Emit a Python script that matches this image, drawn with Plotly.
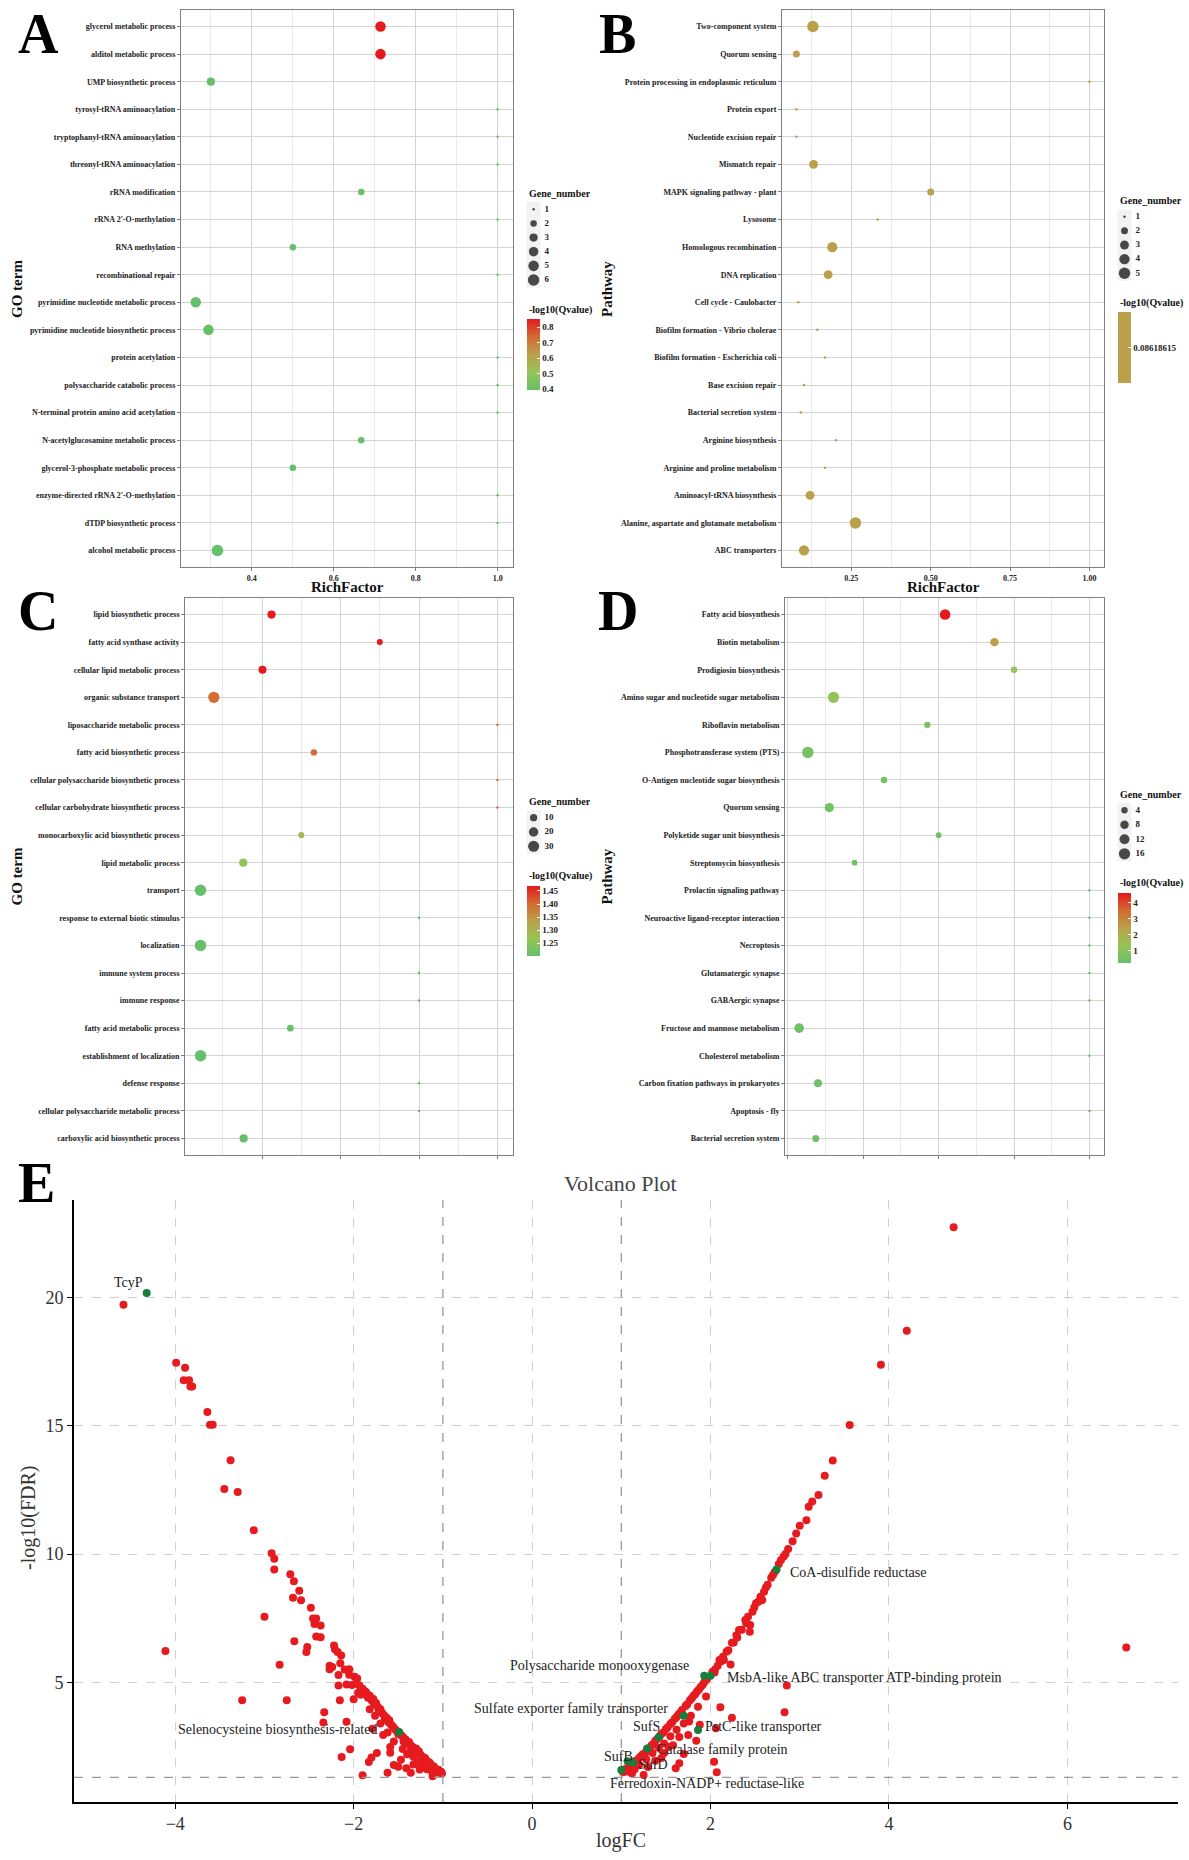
import math
import plotly.graph_objects as go

W, H = 1189, 1860


def px(x):
    return x / W


def py(y):
    return 1 - y / H


SERIF = "Liberation Serif"

# ---------------- Panel A : GO terms ----------------
A_terms = ["glycerol metabolic process", "alditol metabolic process", "UMP biosynthetic process",
           "tyrosyl-tRNA aminoacylation", "tryptophanyl-tRNA aminoacylation", "threonyl-tRNA aminoacylation",
           "rRNA modification", "rRNA 2'-O-methylation", "RNA methylation", "recombinational repair",
           "pyrimidine nucleotide metabolic process", "pyrimidine nucleotide biosynthetic process",
           "protein acetylation", "polysaccharide catabolic process", "N-terminal protein amino acid acetylation",
           "N-acetylglucosamine metabolic process", "glycerol-3-phosphate metabolic process",
           "enzyme-directed rRNA 2'-O-methylation", "dTDP biosynthetic process", "alcohol metabolic process"]
A_rich = [0.714, 0.714, 0.300, 1.0, 1.0, 1.0, 0.667, 1.0, 0.5, 1.0,
          0.263, 0.294, 1.0, 1.0, 1.0, 0.667, 0.5, 1.0, 1.0, 0.316]
A_genes = [5, 5, 3, 1, 1, 1, 2, 1, 2, 1, 5, 5, 1, 1, 1, 2, 2, 1, 1, 6]
A_q = [0.852, 0.852, 0.394, 0.394, 0.394, 0.394, 0.394, 0.394, 0.394, 0.394,
       0.394, 0.394, 0.394, 0.394, 0.394, 0.394, 0.394, 0.394, 0.394, 0.394]
A_size_breaks = [1, 2, 3, 4, 5, 6]
A_color_ticks = [0.4, 0.5, 0.6, 0.7, 0.8]
A_color_labels = ["0.4", "0.5", "0.6", "0.7", "0.8"]

# ---------------- Panel B : KEGG pathways ----------------
B_terms = ["Two-component system", "Quorum sensing", "Protein processing in endoplasmic reticulum",
           "Protein export", "Nucleotide excision repair", "Mismatch repair", "MAPK signaling pathway - plant",
           "Lysosome", "Homologous recombination", "DNA replication", "Cell cycle - Caulobacter",
           "Biofilm formation - Vibrio cholerae", "Biofilm formation - Escherichia coli", "Base excision repair",
           "Bacterial secretion system", "Arginine biosynthesis", "Arginine and proline metabolism",
           "Aminoacyl-tRNA biosynthesis", "Alanine, aspartate and glutamate metabolism", "ABC transporters"]
B_rich = [0.129, 0.077, 1.0, 0.077, 0.077, 0.131, 0.5, 0.333, 0.190, 0.177,
          0.083, 0.143, 0.167, 0.101, 0.091, 0.201, 0.167, 0.120, 0.263, 0.101]
B_genes = [5, 2, 1, 1, 1, 3, 2, 1, 4, 3, 1, 1, 1, 1, 1, 1, 1, 3, 5, 4]
B_q = [0.08618615] * 20
B_size_breaks = [1, 2, 3, 4, 5]
B_color_ticks = [0.08618615]
B_color_labels = ["0.08618615"]

# ---------------- Panel C : GO terms ----------------
C_terms = ["lipid biosynthetic process", "fatty acid synthase activity", "cellular lipid metabolic process",
           "organic substance transport", "liposaccharide metabolic process", "fatty acid biosynthetic process",
           "cellular polysaccharide biosynthetic process", "cellular carbohydrate biosynthetic process",
           "monocarboxylic acid biosynthetic process", "lipid metabolic process", "transport",
           "response to external biotic stimulus", "localization", "immune system process", "immune response",
           "fatty acid metabolic process", "establishment of localization", "defense response",
           "cellular polysaccharide metabolic process", "carboxylic acid biosynthetic process"]
C_rich = [0.424, 0.700, 0.401, 0.277, 1.0, 0.532, 1.0, 1.0, 0.500, 0.352,
          0.243, 0.8, 0.243, 0.8, 0.8, 0.472, 0.243, 0.8, 0.8, 0.353]
C_genes = [14, 6, 13, 31, 1, 7, 1, 1, 6, 14, 33, 1, 33, 1, 1, 8, 33, 1, 1, 14]
C_q = [1.469, 1.469, 1.469, 1.400, 1.400, 1.400, 1.400, 1.400, 1.290, 1.260,
       1.2015, 1.2015, 1.2015, 1.2015, 1.2015, 1.2015, 1.2015, 1.2015, 1.2015, 1.2015]
C_size_breaks = [10, 20, 30]
C_color_ticks = [1.25, 1.30, 1.35, 1.40, 1.45]
C_color_labels = ["1.25", "1.30", "1.35", "1.40", "1.45"]

# ---------------- Panel D : KEGG pathways ----------------
D_terms = ["Fatty acid biosynthesis", "Biotin metabolism", "Prodigiosin biosynthesis",
           "Amino sugar and nucleotide sugar metabolism", "Riboflavin metabolism",
           "Phosphotransferase system (PTS)", "O-Antigen nucleotide sugar biosynthesis", "Quorum sensing",
           "Polyketide sugar unit biosynthesis", "Streptomycin biosynthesis", "Prolactin signaling pathway",
           "Neuroactive ligand-receptor interaction", "Necroptosis", "Glutamatergic synapse", "GABAergic synapse",
           "Fructose and mannose metabolism", "Cholesterol metabolism", "Carbon fixation pathways in prokaryotes",
           "Apoptosis - fly", "Bacterial secretion system"]
D_rich = [0.617, 0.748, 0.800, 0.321, 0.570, 0.253, 0.455, 0.310, 0.600, 0.377,
          1.0, 1.0, 1.0, 1.0, 1.0, 0.230, 1.0, 0.280, 1.0, 0.274]
D_genes = [14, 8, 4, 16, 4, 17, 4, 10, 3, 3, 1, 1, 1, 1, 1, 11, 1, 7, 1, 5]
D_q = [4.58, 2.45, 1.40, 1.30, 0.75, 0.62, 0.55, 0.55, 0.50, 0.45,
       0.236, 0.236, 0.236, 0.236, 0.236, 0.45, 0.236, 0.45, 0.236, 0.42]
D_size_breaks = [4, 8, 12, 16]
D_color_ticks = [1, 2, 3, 4]
D_color_labels = ["1", "2", "3", "4"]

# ---------------- Panel E : volcano ----------------
red_logfc = [
    -4.58, -3.99, -3.89, -3.905, -3.845, -3.83, -3.81, -3.64, -3.61, -3.58,
    -3.38, -3.45, -3.30, -3.12, -2.92, -2.89, -2.89, -2.71, -2.67, -2.61,
    -2.68, -2.59, -2.48, -3.00, -2.455, -2.42, -2.44, -2.37, -2.42, -2.37,
    -2.665, -2.52, -2.53, -4.11, -2.83, -2.22, -2.21, -2.18, -2.14, -2.15,
    -2.27, -2.24, -2.27, -2.05, -2.17, -1.99, -1.96, -2.08, -2.17, -2.02,
    -1.935, -1.875, -1.92, -3.25, -2.75, -2.155, -2.00, -2.33, -2.34, -2.08,
    -1.79, -1.67, -2.04, -2.135, -1.83, -1.80, -1.74, -1.59, -1.59, -1.90,
    -1.62, -1.55, -1.47, -1.50, -1.41, -1.36, -1.26, -1.115, -1.36, -1.33,
    -1.90, -1.88, -1.86, -1.84, -1.82, -1.80, -1.78, -1.77, -1.75, -1.73,
    -1.72, -1.70, -1.68, -1.66, -1.65, -1.63, -1.61, -1.60, -1.58, -1.56,
    -1.54, -1.52, -1.50, -1.47, -1.45, -1.44, -1.42, -1.40, -1.38, -1.36,
    -1.34, -1.32, -1.30, -1.28, -1.27, -1.25, -1.23, -1.22, -1.20, -1.18,
    -1.17, -1.15, -1.13, -1.12, -1.10, -1.08, -1.07, -1.05, -1.04, -1.02,
    -1.01, -1.12, -1.18, -1.22, -1.28, -1.33, -1.40, -1.45, -1.55, -1.62,
    -1.70, -1.76, -1.82, -1.95, -1.98, -2.05, -2.10,
    4.725, 4.20, 3.91, 3.56, 3.37, 3.28, 3.21, 3.14, 3.10, 3.075,
    3.00, 2.82, 2.79, 2.765, 2.68, 2.62, 2.60, 2.56, 2.58, 2.51,
    2.49, 2.42, 2.39, 2.445, 2.44, 2.32, 2.29, 2.24, 2.18, 2.14,
    2.10, 2.15, 2.225, 2.045, 2.855, 2.11, 2.24, 2.83, 1.76, 2.06,
    1.65, 1.84, 1.53, 1.70, 2.04, 2.07, 1.65, 1.61, 1.25, 6.66,
    1.02, 1.04, 1.06, 1.08, 1.10, 1.12, 1.14, 1.16, 1.18, 1.20,
    1.22, 1.24, 1.26, 1.28, 1.30, 1.32, 1.34, 1.36, 1.38, 1.40,
    1.43, 1.45, 1.47, 1.50, 1.52, 1.55, 1.57, 1.60, 1.62, 1.64,
    1.66, 1.68, 1.72, 1.74, 1.77, 1.79, 1.81, 1.83, 1.85, 1.87,
    1.89, 1.91, 1.93, 1.96, 2.02, 2.05, 2.08, 2.12, 2.20, 2.26,
    2.30, 2.35, 2.40, 2.47, 2.54, 2.64, 2.70, 2.72, 2.84, 2.87,
    2.92, 2.96, 1.08, 1.15, 1.20, 1.28, 1.35, 1.42, 1.48, 1.55,
    1.62, 1.70, 1.78, 1.86, 1.95, 1.38, 1.48, 1.58, 1.12, 1.30,
    1.45, 1.75, 1.88,
]
red_mlog10fdr = [
    19.71, 17.45, 17.26, 16.77, 16.77, 16.53, 16.53, 15.53, 15.04, 15.04,
    13.65, 12.53, 12.42, 10.93, 10.03, 9.82, 9.40, 9.21, 8.94, 8.57,
    8.30, 8.20, 7.91, 7.56, 7.49, 7.49, 7.27, 7.22, 6.79, 6.76,
    6.60, 6.38, 6.18, 6.22, 5.69, 6.44, 6.29, 6.18, 6.05, 5.74,
    5.65, 5.60, 5.51, 5.51, 5.29, 5.22, 5.15, 4.92, 4.88, 4.90,
    4.88, 4.65, 4.52, 4.30, 4.30, 4.30, 4.34, 3.84, 3.44, 3.47,
    3.19, 2.95, 2.39, 2.09, 1.90, 2.07, 2.25, 2.48, 2.26, 1.38,
    1.48, 1.78, 1.99, 1.71, 1.65, 1.48, 1.61, 1.34, 2.36, 2.10,
    4.75, 4.55, 4.62, 4.40, 4.48, 4.30, 4.35, 4.15, 4.20, 4.05,
    3.90, 3.95, 3.80, 3.72, 3.55, 3.62, 3.45, 3.52, 3.35, 3.28,
    3.18, 3.12, 2.98, 2.95, 2.88, 2.70, 2.78, 2.62, 2.68, 2.55,
    2.48, 2.38, 2.42, 2.25, 2.32, 2.18, 2.10, 2.02, 2.05, 1.95,
    1.85, 1.88, 1.78, 1.70, 1.72, 1.62, 1.55, 1.60, 1.48, 1.52,
    1.45, 1.50, 1.62, 1.75, 1.90, 1.80, 2.20, 2.40, 2.70, 3.05,
    3.40, 3.70, 3.95, 4.60, 4.95, 5.30, 5.50,
    22.73, 18.70, 17.37, 15.03, 13.64, 13.05, 12.30, 12.05, 11.84, 11.32,
    11.10, 9.90, 9.77, 9.61, 9.08, 8.70, 8.53, 8.34, 8.21, 8.08,
    7.92, 7.56, 7.43, 7.23, 6.97, 7.04, 6.84, 6.54, 6.19, 6.00,
    5.87, 5.87, 5.70, 5.38, 4.88, 4.03, 3.62, 3.84, 3.48, 3.21,
    2.87, 2.73, 2.49, 2.21, 1.91, 1.50, 1.85, 1.65, 1.39, 6.36,
    1.50, 1.62, 1.58, 1.72, 1.68, 1.80, 1.85, 1.95, 1.90, 2.05,
    2.12, 2.20, 2.15, 2.32, 2.40, 2.45, 2.55, 2.60, 2.72, 2.78,
    2.90, 3.00, 3.05, 3.18, 3.25, 3.38, 3.45, 3.58, 3.65, 3.75,
    3.82, 3.92, 4.08, 4.15, 4.30, 4.38, 4.48, 4.55, 4.65, 4.72,
    4.82, 4.90, 5.00, 5.12, 5.40, 5.50, 5.65, 5.82, 6.25, 6.55,
    6.75, 7.05, 7.30, 7.75, 8.15, 8.80, 9.18, 9.30, 10.00, 10.20,
    10.50, 10.80, 1.52, 1.62, 1.78, 2.00, 2.25, 2.45, 2.62, 2.90,
    3.15, 3.40, 3.70, 4.05, 4.45, 1.95, 2.25, 2.55, 1.45, 1.70,
    2.05, 2.95, 3.35,
]
green_names = ["TcyP", "Selenocysteine biosynthesis-related", "Polysaccharide monooxygenase",
               "MsbA-like ABC transporter ATP-binding protein", "Sulfate exporter family transporter",
               "SufS", "PstC-like transporter", "Catalase family protein", "SufB", "SufD",
               "Ferredoxin-NADP+ reductase-like", "CoA-disulfide reductase"]
green_logfc = [-4.32, -1.49, 1.93, 2.00, 1.70, 1.42, 1.86, 1.29, 1.07, 1.13, 1.00, 2.74]
green_mlog10fdr = [20.17, 3.07, 5.26, 5.26, 3.70, 2.86, 3.14, 2.42, 1.93, 1.88, 1.59, 9.40]
# label anchor (left edge, middle) for each labelled gene, in data units
label_x = [-4.714, -3.99, -0.267, 2.167, -0.674, 1.114, 1.919, 1.376, 0.781, 1.159, 0.852, 2.863]
label_y = [20.57, 3.17, 5.64, 5.18, 4.00, 3.27, 3.27, 2.39, 2.13, 1.81, 1.05, 9.27]
FC_CUT = 1.0
FDR_CUT = 1.301

# ---------------- styles ----------------
COLORSCALE = [[0.0, "rgb(102,191,106)"], [0.25, "rgb(150,196,86)"], [0.5, "rgb(186,160,74)"],
              [0.75, "rgb(211,106,50)"], [1.0, "rgb(227,27,30)"]]
MID_COLOR = "rgb(186,160,74)"
GRID = "#D4D4D4"
MINOR = "#EAEAEA"
BORDER = "#808080"


def diam(g, gmax):
    return 2.5 + 9.0 * math.sqrt((g - 1) / (gmax - 1))


fig = go.Figure()
layout = dict(width=W, height=H, margin=dict(l=0, r=0, t=0, b=0), template="none",
              paper_bgcolor="white", plot_bgcolor="rgba(0,0,0,0)", showlegend=False,
              font=dict(family=SERIF, color="#222"))
annotations = []
shapes = []

panels = [
    dict(n=1, terms=A_terms, rich=A_rich, genes=A_genes, q=A_q, breaks=A_size_breaks,
         cticks=A_color_ticks, clabels=A_color_labels,
         xd=(181.0, 512.8), yd=(10, 567), xr=(0.227, 1.037), dtick=0.2, fmt=".1f",
         cb=(527.0, 319.0, 71), leg=(526.6, 193.0, 209.3, 14.14), cbt=310.0),
    dict(n=2, terms=B_terms, rich=B_rich, genes=B_genes, q=B_q, breaks=B_size_breaks,
         cticks=B_color_ticks, clabels=B_color_labels,
         xd=(782.1, 1103.8), yd=(10, 567), xr=(0.032, 1.045), dtick=0.25, fmt=".2f",
         cb=(1117.5, 312.3, 71), leg=(1117.5, 200.0, 216.7, 14.15), cbt=302.7),
    dict(n=3, terms=C_terms, rich=C_rich, genes=C_genes, q=C_q, breaks=C_size_breaks,
         cticks=C_color_ticks, clabels=C_color_labels,
         xd=(185.2, 512.8), yd=(598, 1155), xr=(0.204, 1.039), dtick=0.2, fmt=".1f",
         cb=(527.0, 886.0, 70), leg=(526.6, 801.3, 817.7, 14.3), cbt=876.3),
    dict(n=4, terms=D_terms, rich=D_rich, genes=D_genes, q=D_q, breaks=D_size_breaks,
         cticks=D_color_ticks, clabels=D_color_labels,
         xd=(785.2, 1103.8), yd=(598, 1155), xr=(0.193, 1.038), dtick=0.2, fmt=".1f",
         cb=(1117.5, 893.0, 70), leg=(1117.5, 794.7, 810.3, 14.5), cbt=883.3),
]

tickfont_small = dict(family=SERIF, size=8, color="#222", weight="bold")
leg_x, leg_y, leg_s, leg_t = [], [], [], []

for p in panels:
    n = p["n"]
    sfx = "" if n == 1 else str(n)
    xref, yref, ca = "x" + sfx, "y" + sfx, "coloraxis" + sfx
    gmax = max(p["genes"])
    fig.add_trace(go.Scatter(
        x=p["rich"], y=p["terms"], mode="markers", xaxis=xref, yaxis=yref,
        marker=dict(size=[diam(g, gmax) for g in p["genes"]], color=p["q"], coloraxis=ca,
                    line=dict(width=0), opacity=1),
        hoverinfo="skip"))
    x0, x1 = p["xd"]
    y0, y1 = p["yd"]
    layout["xaxis" + sfx] = dict(
        domain=[px(x0), px(x1)], range=list(p["xr"]), anchor=yref, tick0=0, dtick=p["dtick"],
        tickformat=p["fmt"], showgrid=True, gridcolor=GRID, gridwidth=1.1,
        minor=dict(dtick=p["dtick"] / 2, showgrid=True, gridcolor=MINOR, gridwidth=0.8),
        showline=True, mirror=True, linecolor=BORDER, linewidth=1.2, ticks="outside", ticklen=3,
        tickcolor=BORDER, tickfont=tickfont_small, zeroline=False, automargin=False, fixedrange=True)
    layout["yaxis" + sfx] = dict(
        domain=[py(y1), py(y0)], type="category", categoryorder="array", categoryarray=p["terms"],
        range=[len(p["terms"]) - 0.4, -0.6], anchor=xref, showgrid=True, gridcolor=GRID, gridwidth=1.1,
        showline=True, mirror=True, linecolor=BORDER, linewidth=1.2, ticks="outside", ticklen=3,
        tickcolor=BORDER, tickfont=tickfont_small, zeroline=False, automargin=False, fixedrange=True)
    cbx, cby, cblen = p["cb"]
    qmin, qmax = min(p["q"]), max(p["q"])
    if qmax - qmin < 1e-9:
        cscale = [[0, MID_COLOR], [1, MID_COLOR]]
        qmin, qmax = qmin - 0.01, qmax + 0.01
    else:
        cscale = COLORSCALE
    layout[ca] = dict(
        cmin=qmin, cmax=qmax, colorscale=cscale,
        colorbar=dict(x=px(cbx), xanchor="left", xpad=0, y=py(cby), yanchor="top", ypad=0,
                      len=cblen, lenmode="pixels", thickness=13, thicknessmode="pixels",
                      outlinewidth=0, ticks="inside", ticklen=3, tickcolor="white", tickwidth=1,
                      tickvals=p["cticks"], ticktext=p["clabels"],
                      tickfont=dict(family=SERIF, size=9, color="#222", weight="bold")))
    # legend titles
    lx, lty, lfirst, lstep = p["leg"]
    annotations.append(dict(text="Gene_number", x=px(lx), y=py(lty), xanchor="left", yanchor="middle",
                            xref="paper", yref="paper", showarrow=False,
                            font=dict(family=SERIF, size=10, color="#111", weight="bold")))
    annotations.append(dict(text="-log10(Qvalue)", x=px(lx), y=py(p["cbt"]), xanchor="left", yanchor="middle",
                            xref="paper", yref="paper", showarrow=False,
                            font=dict(family=SERIF, size=10, color="#111", weight="bold")))
    nb = len(p["breaks"])
    shapes.append(dict(type="rect", xref="paper", yref="paper", layer="below",
                       x0=px(lx), x1=px(lx + 14), y0=py(lfirst + lstep * (nb - 1) + 7.5), y1=py(lfirst - 7.5),
                       fillcolor="#F2F2F2", line=dict(width=0)))
    for i, b in enumerate(p["breaks"]):
        leg_x.append(lx + 7)
        leg_y.append(lfirst + lstep * i)
        leg_s.append(diam(b, gmax))
        leg_t.append(str(b))

# size legend keys on a full-figure pixel axis
fig.add_trace(go.Scatter(x=leg_x, y=leg_y, mode="markers", xaxis="x6", yaxis="y6",
                         marker=dict(size=leg_s, color="black", line=dict(width=0)), hoverinfo="skip"))
fig.add_trace(go.Scatter(x=[v + 11 for v in leg_x], y=leg_y, text=leg_t, mode="text", xaxis="x6", yaxis="y6",
                         textposition="middle right",
                         textfont=dict(family=SERIF, size=9, color="#222", weight="bold"), hoverinfo="skip"))
layout["xaxis6"] = dict(domain=[0, 1], range=[0, W], anchor="y6", visible=False, fixedrange=True)
layout["yaxis6"] = dict(domain=[0, 1], range=[H, 0], anchor="x6", visible=False, fixedrange=True)

# axis titles for A-D
for cx, cy, txt, ang in [(347, 587, "RichFactor", 0), (943, 587, "RichFactor", 0),
                         (17, 289, "GO term", -90), (607, 289, "Pathway", -90),
                         (17, 876.5, "GO term", -90), (607, 876.5, "Pathway", -90)]:
    annotations.append(dict(text=txt, x=px(cx), y=py(cy), xref="paper", yref="paper", showarrow=False,
                            xanchor="center", yanchor="middle", textangle=ang,
                            font=dict(family=SERIF, size=15, color="#111", weight="bold")))

# panel letters
for cx, cy, txt in [(38, 34, "A"), (617, 34, "B"), (38, 611, "C"), (618, 611, "D"), (36, 1183, "E")]:
    annotations.append(dict(text=txt, x=px(cx), y=py(cy), xref="paper", yref="paper", showarrow=False,
                            xanchor="center", yanchor="middle",
                            font=dict(family=SERIF, size=56, color="black", weight="bold")))

# cover the clipped bottoms of C / D (as in the reference)
shapes.append(dict(type="rect", xref="paper", yref="paper", layer="above", x0=0, x1=1,
                   y0=py(1199), y1=py(1162.5), fillcolor="white", line=dict(width=0)))

# ---------------- volcano ----------------
fig.add_trace(go.Scatter(x=red_logfc, y=red_mlog10fdr, mode="markers", xaxis="x5", yaxis="y5",
                         marker=dict(size=8, color="#E51B20", line=dict(width=0)), hoverinfo="skip"))
fig.add_trace(go.Scatter(x=green_logfc, y=green_mlog10fdr, mode="markers", xaxis="x5", yaxis="y5",
                         marker=dict(size=8, color="#177F3A", line=dict(width=0)), hoverinfo="skip"))
vol_axis = dict(showgrid=True, griddash="dash", gridcolor="#D0D0D0", gridwidth=1, zeroline=False,
                showline=True, linecolor="black", linewidth=1.5, ticks="outside", ticklen=5,
                tickcolor="black", tickfont=dict(family=SERIF, size=18, color="#333"),
                automargin=False, fixedrange=True)
layout["xaxis5"] = dict(domain=[px(73.9), px(1178)], range=[-5.136, 7.24], anchor="y5", tick0=0, dtick=2,
                        **vol_axis)
layout["yaxis5"] = dict(domain=[py(1802), py(1200)], range=[0.34, 23.79], anchor="x5", tick0=0, dtick=5,
                        **vol_axis)
for v in (-FC_CUT, FC_CUT):
    shapes.append(dict(type="line", xref="x5", yref="y5 domain", x0=v, x1=v, y0=0, y1=1,
                       line=dict(color="#999999", width=1.3, dash="dash")))
shapes.append(dict(type="line", xref="x5 domain", yref="y5", x0=0, x1=1, y0=FDR_CUT, y1=FDR_CUT,
                   line=dict(color="#999999", width=1.3, dash="dash")))
for name, lx_, ly_ in zip(green_names, label_x, label_y):
    annotations.append(dict(text=name, x=lx_, y=ly_, xref="x5", yref="y5", showarrow=False,
                            xanchor="left", yanchor="middle",
                            font=dict(family=SERIF, size=14, color="#222")))
annotations.append(dict(text="Volcano Plot", x=px(621), y=py(1183), xref="paper", yref="paper", showarrow=False,
                        xanchor="center", yanchor="middle", font=dict(family=SERIF, size=22, color="#444")))
annotations.append(dict(text="logFC", x=px(620.5), y=py(1840), xref="paper", yref="paper", showarrow=False,
                        xanchor="center", yanchor="middle", font=dict(family=SERIF, size=20, color="#333")))
annotations.append(dict(text="-log10(FDR)", x=px(28), y=py(1518), xref="paper", yref="paper", showarrow=False,
                        xanchor="center", yanchor="middle", textangle=-90,
                        font=dict(family=SERIF, size=20, color="#333")))

layout["annotations"] = annotations
layout["shapes"] = shapes
fig.update_layout(**layout)
fig.write_html("out.html")
